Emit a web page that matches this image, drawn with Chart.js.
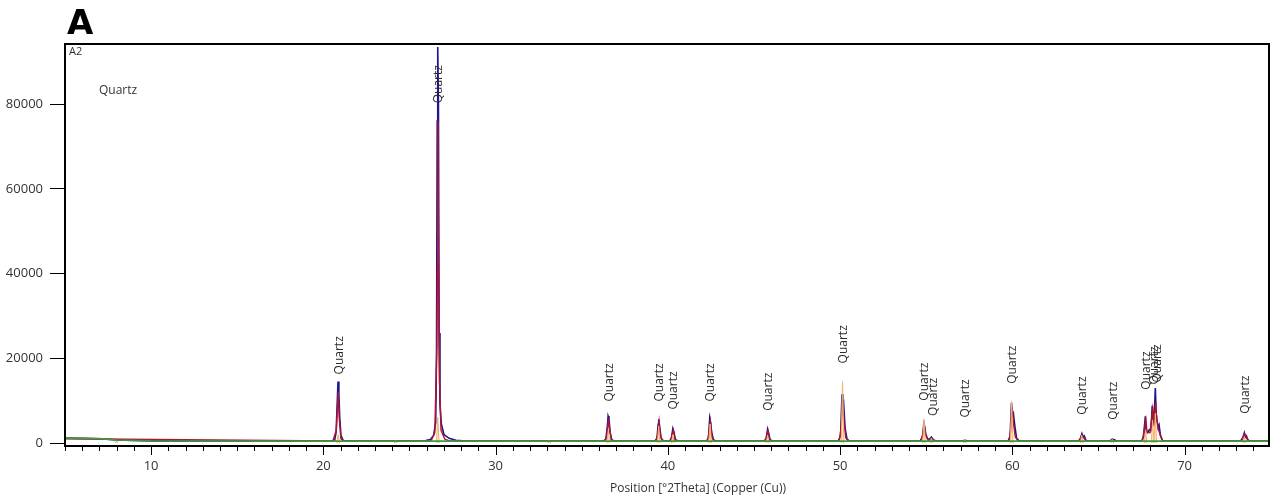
<!DOCTYPE html>
<html>
<head>
<meta charset="utf-8">
<script src="https://cdn.jsdelivr.net/npm/chart.js@4/dist/chart.umd.min.js"></script>
<style>
  html, body { margin: 0; padding: 0; background: #fff; }
  canvas { display: block; }
</style>
</head>
<body>
<canvas id="xrd" width="1273" height="502"></canvas>
<script>
// measured scan (navy), [2theta, counts]
const measured = [
  [5.0, 1150], [6.0, 1100], [7.0, 1000], [8.0, 750], [9.0, 600], [10, 520], [14, 480], [20.5, 470],
  [20.65, 650], [20.74, 2500], [20.8, 9000], [20.85, 14500], [20.9, 11500], [20.95, 6000], [21.02, 1800], [21.15, 600], [21.4, 480],
  [24, 470], [25.9, 520], [26.2, 800], [26.4, 1800], [26.52, 4800], [26.57, 21000], [26.61, 76000], [26.64, 93500],
  [26.68, 80000], [26.72, 26000], [26.77, 9000], [26.85, 4500], [27.0, 2000], [27.3, 1100], [27.7, 650], [28.3, 480],
  [36.25, 470], [36.4, 900], [36.48, 3500], [36.53, 6400], [36.58, 5800], [36.65, 2500], [36.73, 900], [36.85, 480],
  [39.25, 470], [39.37, 1100], [39.44, 4500], [39.47, 5600], [39.53, 3600], [39.61, 1100], [39.75, 480],
  [40.1, 470], [40.21, 1200], [40.29, 3400], [40.35, 2600], [40.44, 800], [40.6, 470],
  [42.25, 470], [42.36, 1300], [42.43, 5900], [42.48, 4800], [42.55, 2300], [42.65, 700], [42.8, 470],
  [45.6, 470], [45.71, 1100], [45.79, 3300], [45.85, 2400], [45.94, 700], [46.1, 470],
  [49.9, 470], [50.03, 1800], [50.11, 11500], [50.16, 8000], [50.21, 9000], [50.29, 3500], [50.4, 900], [50.55, 470],
  [54.65, 470], [54.79, 1600], [54.86, 4600], [54.91, 3800], [54.98, 2000], [55.08, 1000], [55.2, 900], [55.3, 1400], [55.42, 700], [55.6, 470],
  [57.05, 470], [57.24, 650], [57.45, 470],
  [59.75, 470], [59.87, 1500], [59.95, 9500], [60.01, 6500], [60.06, 7000], [60.13, 4500], [60.24, 1200], [60.4, 470],
  [63.85, 470], [63.97, 1200], [64.04, 2200], [64.1, 1500], [64.17, 1700], [64.28, 600], [64.45, 470],
  [65.65, 470], [65.8, 900], [65.92, 800], [66.05, 470],
  [67.5, 470], [67.62, 1500], [67.72, 6300], [67.77, 3000], [67.86, 2500], [67.96, 3200], [68.05, 3000], [68.12, 8800],
  [68.17, 6000], [68.23, 5000], [68.3, 13000], [68.35, 7000], [68.41, 5000], [68.47, 3500], [68.52, 4200], [68.6, 1800], [68.72, 600], [68.9, 470],
  [73.25, 470], [73.39, 1300], [73.47, 2400], [73.53, 1400], [73.59, 1700], [73.68, 600], [73.85, 470], [74.9, 470]
];

// second profile (red)
const calculated = [
  [5, 1000], [20.55, 470], [20.75, 3000], [20.86, 12000], [20.92, 6000], [21.02, 1000], [21.2, 470],
  [26.25, 470], [26.47, 2500], [26.59, 23000], [26.62, 42000], [26.65, 76000], [26.69, 42000], [26.74, 15000], [26.83, 3000], [27.05, 900], [27.35, 470],
  [36.35, 470], [36.47, 2000], [36.55, 5800], [36.61, 3500], [36.72, 700], [36.85, 470],
  [39.3, 470], [39.41, 2000], [39.49, 5000], [39.57, 1500], [39.7, 470],
  [40.15, 470], [40.25, 2000], [40.32, 3000], [40.42, 600], [40.55, 470],
  [42.3, 470], [42.39, 2500], [42.47, 5200], [42.57, 1200], [42.72, 470],
  [45.65, 470], [45.74, 1800], [45.81, 2900], [45.9, 800], [46.05, 470],
  [49.95, 470], [50.07, 4000], [50.15, 10000], [50.23, 5000], [50.33, 1200], [50.5, 470],
  [54.7, 470], [54.82, 2500], [54.89, 4200], [54.97, 1800], [55.12, 600], [55.3, 1000], [55.48, 470],
  [59.8, 470], [59.9, 3000], [59.98, 8500], [60.07, 4500], [60.17, 1500], [60.33, 470],
  [63.9, 470], [64.02, 1800], [64.13, 1300], [64.28, 470],
  [67.55, 470], [67.67, 3500], [67.75, 5500], [67.82, 2500], [68.0, 2500], [68.09, 6000], [68.15, 8000], [68.23, 4000],
  [68.31, 9500], [68.37, 6000], [68.46, 3500], [68.57, 2000], [68.72, 470],
  [73.3, 470], [73.43, 1800], [73.5, 2100], [73.62, 1000], [73.78, 470], [74.9, 470]
];

// reference lines (orange)
const refPos    = [8.0, 20.86, 24.2, 26.64, 33.1, 36.54, 39.47, 40.29, 42.45, 45.79, 50.14, 54.87, 55.3, 57.24, 59.96, 64.03, 65.8, 67.74, 68.14, 68.3, 73.47];
const refHeight = [600, 2000, 700, 6000, 600, 3000, 4000, 2000, 4500, 1800, 14500, 5600, 1200, 800, 9800, 1800, 900, 3000, 5000, 7000, 1500];

// background (green)
const background = [[5, 1150], [7, 1050], [8, 700], [10, 500], [20, 460], [74.9, 450]];

// peak labels
const peakPos  = [20.86, 26.64, 36.54, 39.47, 40.29, 42.45, 45.79, 50.14, 54.87, 55.35, 57.24, 59.96, 64.03, 65.8, 67.74, 68.2, 68.36, 73.47];
const peakLift = [16200, 80200, 9800, 9800, 7900, 9800, 7600, 18800, 10000, 6400, 6000, 14000, 6700, 5500, 12600, 13800, 14300, 6900];
const peakName = 'Quartz';

const xTicks = [];
for (let v = 5; v <= 74; v++) xTicks.push(v);
const yTicks = [0, 20000, 40000, 60000, 80000];

const toXY = (arr) => arr.map((p) => ({ x: p[0], y: p[1] }));

function refSticks() {
  const out = [];
  refPos.forEach((p, i) => {
    out.push({ x: p - 0.08, y: 0 }, { x: p, y: refHeight[i] }, { x: p + 0.08, y: 0 }, { x: p + 0.09, y: null });
  });
  return out;
}

const FONT = '"Open Sans", sans-serif';

const decor = {
  id: 'decor',
  afterDatasetsDraw(chart) {
    const { ctx, scales: { x, y } } = chart;
    ctx.save();
    ctx.fillStyle = '#2a2a2a';
    ctx.font = '12px ' + FONT;
    ctx.textAlign = 'left';
    ctx.textBaseline = 'middle';
    peakPos.forEach((p, i) => {
      ctx.save();
      ctx.translate(x.getPixelForValue(p) + 1, y.getPixelForValue(peakLift[i]));
      ctx.rotate(-Math.PI / 2);
      ctx.fillText(peakName, 0, 0);
      ctx.restore();
    });
    ctx.restore();
  },
  afterDraw(chart) {
    const { ctx, chartArea: a, scales: { x } } = chart;
    ctx.save();
    // x tick marks
    ctx.strokeStyle = '#000';
    ctx.lineWidth = 1;
    xTicks.forEach((v) => {
      const px = Math.round(x.getPixelForValue(v)) + 0.5;
      const len = v % 10 === 0 ? 9 : 5;
      ctx.beginPath();
      ctx.moveTo(px, a.bottom);
      ctx.lineTo(px, a.bottom + len);
      ctx.stroke();
    });
    // frame
    ctx.lineWidth = 2;
    ctx.strokeRect(a.left, a.top, a.right - a.left, a.bottom - a.top);

    ctx.fillStyle = '#000';
    ctx.textBaseline = 'alphabetic';
    ctx.textAlign = 'left';
    ctx.font = 'bold 34px "DejaVu Sans", sans-serif';
    ctx.fillText('A', 67, 34);

    ctx.fillStyle = '#333';
    ctx.font = '11px ' + FONT;
    ctx.textBaseline = 'middle';
    ctx.fillText('A2', a.left + 4, a.top + 8);
    ctx.font = '12px ' + FONT;
    ctx.fillText(peakName, 99, 91);

    ctx.textAlign = 'center';
    ctx.font = '12px ' + FONT;
    ctx.fillText('Position [°2Theta] (Copper (Cu))', 698, 489);
    ctx.restore();
  }
};

new Chart(document.getElementById('xrd'), {
  type: 'line',
  data: {
    datasets: [
      { label: 'background', data: toXY(background), borderColor: '#3f9a3f', borderWidth: 1.6, order: 0 },
      {
        label: 'reference', data: refSticks(), borderColor: '#f2b36a', borderWidth: 1,
        backgroundColor: 'rgba(248, 205, 150, 0.55)', fill: 'origin', spanGaps: false, order: 1
      },
      { label: 'calculated', data: toXY(calculated), borderColor: '#b3122f', borderWidth: 1.4, order: 2 },
      { label: 'measured', data: toXY(measured), borderColor: '#1c1690', borderWidth: 1.6, order: 3 }
    ]
  },
  options: {
    responsive: false,
    animation: false,
    devicePixelRatio: 1,
    elements: { point: { radius: 0 }, line: { tension: 0 } },
    layout: { padding: { top: 44, right: 4, left: 0, bottom: 0 } },
    plugins: { legend: { display: false }, tooltip: { enabled: false } },
    scales: {
      x: {
        type: 'linear',
        min: 5.0,
        max: 74.9,
        afterBuildTicks: (s) => { s.ticks = xTicks.map((v) => ({ value: v })); },
        afterFit: (s) => { s.height = 56; },
        border: { display: false },
        grid: { drawOnChartArea: false, tickLength: 9, tickColor: 'rgba(0,0,0,0)' },
        ticks: {
          autoSkip: false,
          maxRotation: 0,
          padding: 3,
          color: '#333',
          font: { family: FONT, size: 13 },
          callback: (v) => (v % 10 === 0 ? String(v) : '')
        }
      },
      y: {
        min: -700,
        max: 94200,
        afterBuildTicks: (s) => { s.ticks = yTicks.map((v) => ({ value: v })); },
        afterFit: (s) => { s.width = 65; },
        border: { display: false },
        grid: { drawOnChartArea: false, tickLength: 15, tickColor: '#000' },
        ticks: {
          padding: 7,
          color: '#333',
          font: { family: FONT, size: 13 },
          callback: (v) => String(v)
        }
      }
    }
  },
  plugins: [decor]
});
</script>
</body>
</html>
